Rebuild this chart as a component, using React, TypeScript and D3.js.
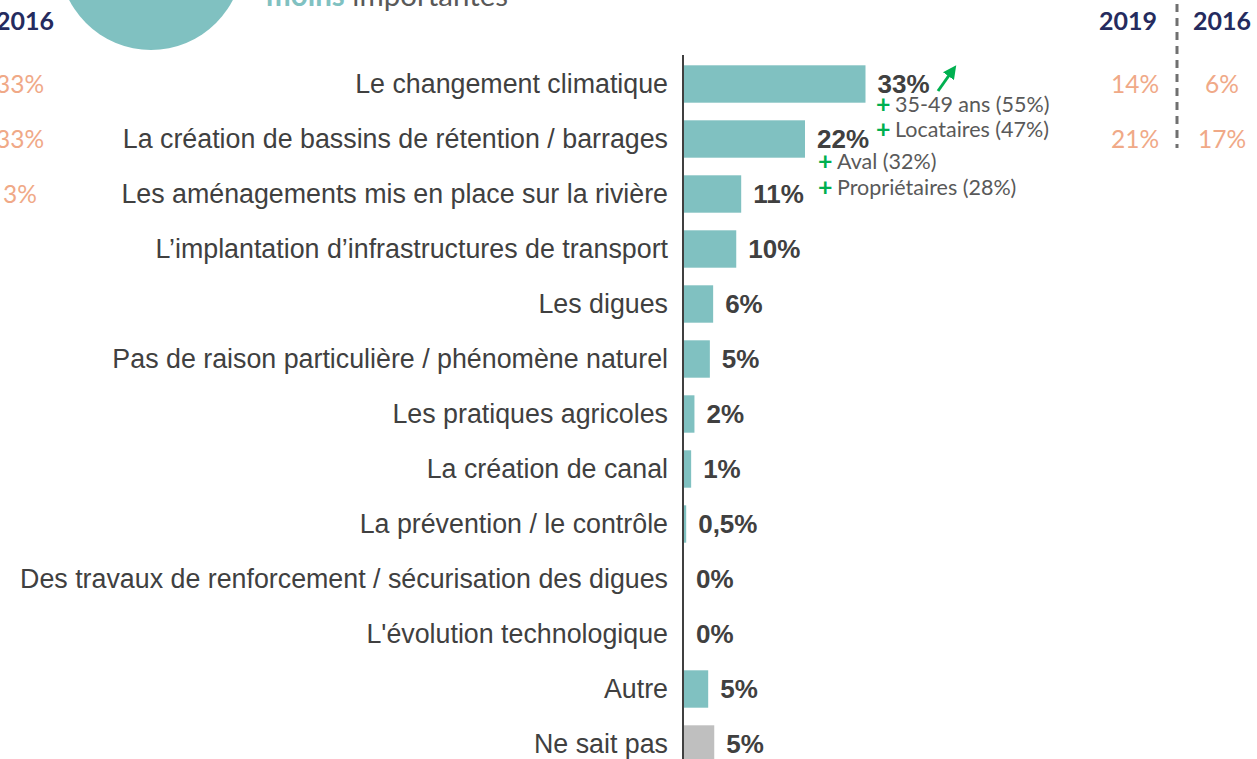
import * as d3 from "d3";

const categories = [
  "Le changement climatique",
  "La création de bassins de rétention / barrages",
  "Les aménagements mis en place sur la rivière",
  "L’implantation d’infrastructures de transport",
  "Les digues",
  "Pas de raison particulière / phénomène naturel",
  "Les pratiques agricoles",
  "La création de canal",
  "La prévention / le contrôle",
  "Des travaux de renforcement / sécurisation des digues",
  "L'évolution technologique",
  "Autre",
  "Ne sait pas",
];
// bar lengths, labels as printed
const values = [33, 22, 10.4, 9.5, 5.3, 4.7, 1.9, 1.3, 0.4, 0, 0, 4.4, 5.5];
const valueLabels = ["33%", "22%", "11%", "10%", "6%", "5%", "2%", "1%", "0,5%", "0%", "0%", "5%", "5%"];

const leftCol2016 = ["33%", "33%", "3%"];
const right2019 = ["14%", "21%"];
const right2016 = ["6%", "17%"];

const notes33 = ["35-49 ans (55%)", "Locataires (47%)"];
const notes22 = ["Aval (32%)", "Propriétaires (28%)"];

const TEAL = "#80C1C1";
const GREY_BAR = "#BFBFBF";
const TXT = "#404040";
const NAVY = "#252B5E";
const SALMON = "#F0A987";
const GREEN = "#00B050";

export default function App() {
  const W = 1257;
  const H = 759;
  const axisX = 683;

  const y = d3.scaleBand<string>().domain(categories).range([56.5, 771.5]).paddingInner(0.32).paddingOuter(0.16);
  const x = d3.scaleLinear().domain([0, 33]).range([axisX + 1, 865.5]);
  const cy = (i: number) => (y(categories[i]) ?? 0) + y.bandwidth() / 2;

  const arrow = d3.line()([[938, 91], [950, 74]]);

  return (
    <div style={{ position: "absolute", left: 0, top: 0 }}>
      <svg width={W} height={H} style={{ display: "block" }}>
        <defs>
          <marker id="ah" viewBox="0 0 10 10" refX="2" refY="5" markerWidth="4.5" markerHeight="4.5" orient="auto">
            <path d="M0,0 L10,5 L0,10 z" fill={GREEN} />
          </marker>
        </defs>

        {/* header fragments */}
        <circle cx={151} cy={-42} r={92} fill={TEAL} />
        <text x={266} y={6} fontFamily="Lato" fontSize={29.5}>
          <tspan fill={TEAL} fontWeight="bold">moins</tspan>
          <tspan fill="#595959"> importantes</tspan>
        </text>

        <text x={-4} y={30} fontFamily="Lato" fontWeight="bold" fontSize={25} fill={NAVY}>2016</text>
        {leftCol2016.map((t, i) => (
          <text key={i} x={20} y={cy(i) + 9} textAnchor="middle" fontFamily="Lato" fontSize={24.5} fill={SALMON}>{t}</text>
        ))}

        <text x={1128} y={30} textAnchor="middle" fontFamily="Lato" fontWeight="bold" fontSize={25} fill={NAVY}>2019</text>
        <text x={1222} y={30} textAnchor="middle" fontFamily="Lato" fontWeight="bold" fontSize={25} fill={NAVY}>2016</text>
        <line x1={1177} x2={1177} y1={4} y2={148} stroke="#707070" strokeWidth={3} strokeDasharray="8 6" />
        {right2019.map((t, i) => (
          <text key={i} x={1135} y={cy(i) + 9} textAnchor="middle" fontFamily="Lato" fontSize={24.5} fill={SALMON}>{t}</text>
        ))}
        {right2016.map((t, i) => (
          <text key={i} x={1222} y={cy(i) + 9} textAnchor="middle" fontFamily="Lato" fontSize={24.5} fill={SALMON}>{t}</text>
        ))}

        {/* bars */}
        {categories.map((c, i) => (
          <rect
            key={c}
            x={x(0)}
            y={y(c)}
            width={x(values[i]) - x(0)}
            height={y.bandwidth()}
            fill={i === categories.length - 1 ? GREY_BAR : TEAL}
          />
        ))}
        <line x1={axisX} x2={axisX} y1={55} y2={H} stroke="#000" strokeWidth={1.5} />

        {categories.map((c, i) => (
          <text key={c} x={668} y={cy(i) + 9} textAnchor="end" fontFamily="Liberation Sans, Arial" fontSize={26.8} fill={TXT}>{c}</text>
        ))}
        {valueLabels.map((t, i) => (
          <text key={i} x={x(values[i]) + 12} y={cy(i) + 9} fontFamily="Liberation Sans, Arial" fontWeight="bold" fontSize={26} fill={TXT}>{t}</text>
        ))}

        {/* sub-group annotations */}
        <path d={arrow ?? ""} stroke={GREEN} strokeWidth={3} fill="none" markerEnd="url(#ah)" />
        {notes33.map((t, i) => (
          <g key={t}>
            <text x={876} y={113 + i * 25} fontFamily="Lato" fontWeight="bold" fontSize={25} fill={GREEN}>+</text>
            <text x={895} y={112 + i * 25} fontFamily="Lato" fontSize={21.5} fill="#595959">{t}</text>
          </g>
        ))}
        {notes22.map((t, i) => (
          <g key={t}>
            <text x={818} y={170 + i * 26} fontFamily="Lato" fontWeight="bold" fontSize={25} fill={GREEN}>+</text>
            <text x={837} y={169 + i * 26} fontFamily="Lato" fontSize={21.5} fill="#595959">{t}</text>
          </g>
        ))}
      </svg>
    </div>
  );
}
